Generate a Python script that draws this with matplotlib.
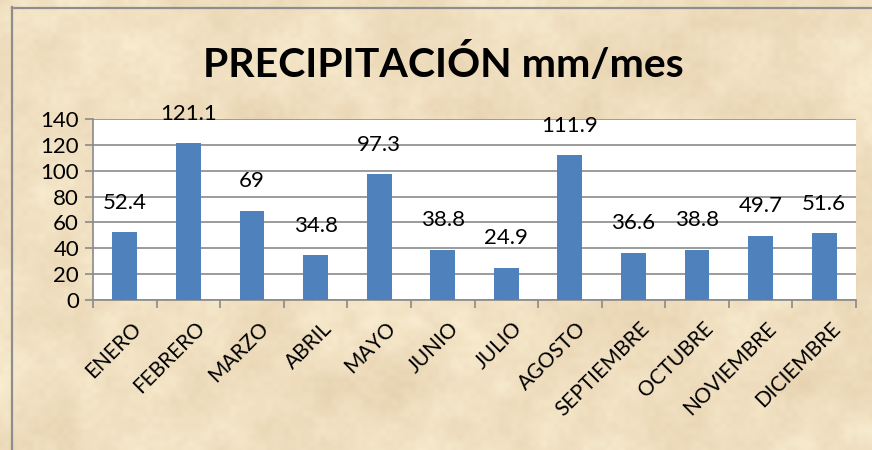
import numpy as np
import matplotlib
matplotlib.use("Agg")
import matplotlib.pyplot as plt
from matplotlib.lines import Line2D
from matplotlib.transforms import ScaledTranslation

months = ["ENERO", "FEBRERO", "MARZO", "ABRIL", "MAYO", "JUNIO", "JULIO",
          "AGOSTO", "SEPTIEMBRE", "OCTUBRE", "NOVIEMBRE", "DICIEMBRE"]
precip_mm = [52.4, 121.1, 69, 34.8, 97.3, 38.8, 24.9, 111.9, 36.6, 38.8, 49.7, 51.6]
y_ticks = [0, 20, 40, 60, 80, 100, 120, 140]
title = "PRECIPITACIÓN mm/mes"

plt.rcParams["font.family"] = ["Lato", "DejaVu Sans"]

W, H = 872, 450
fig = plt.figure(figsize=(W / 100, H / 100), dpi=100)

# parchment-like backdrop: soft mottled texture behind everything
rng = np.random.default_rng(7)
def smooth_noise(h, w, cell):
    g = rng.random((h // cell + 2, w // cell + 2))
    yi = np.linspace(0, g.shape[0] - 1.001, h)
    xi = np.linspace(0, g.shape[1] - 1.001, w)
    y0 = yi.astype(int); x0 = xi.astype(int)
    fy = (yi - y0)[:, None]; fx = (xi - x0)[None, :]
    fy = fy * fy * (3 - 2 * fy); fx = fx * fx * (3 - 2 * fx)
    a = g[y0][:, x0]; b = g[y0][:, x0 + 1]
    c = g[y0 + 1][:, x0]; d = g[y0 + 1][:, x0 + 1]
    return (a * (1 - fx) + b * fx) * (1 - fy) + (c * (1 - fx) + d * fx) * fy

n = (0.45 * smooth_noise(H, W, 70) + 0.35 * smooth_noise(H, W, 22)
     + 0.2 * smooth_noise(H, W, 6))
n = (n - n.min()) / (n.max() - n.min())
light = np.array([0.975, 0.925, 0.815])
dark = np.array([0.905, 0.825, 0.690])
tex = dark[None, None, :] * (1 - n[..., None]) + light[None, None, :] * n[..., None]
bg = fig.add_axes([0, 0, 1, 1], zorder=-10)
bg.imshow(tex, aspect="auto", extent=[0, 1, 0, 1], interpolation="bilinear")
bg.axis("off")

# chart frame edges (left and top)
frame_c = "#8e8e8e"
fig.add_artist(Line2D([11.5 / W, 11.5 / W], [0, 1 - 7 / H], transform=fig.transFigure,
                      color=frame_c, lw=1.6))
fig.add_artist(Line2D([11.5 / W, 1], [1 - 7.5 / H, 1 - 7.5 / H], transform=fig.transFigure,
                      color=frame_c, lw=1.6))

ax = fig.add_axes([93 / W, 1 - 300 / H, (856 - 93) / W, (300 - 119) / H])
ax.set_facecolor("white")
x = np.arange(len(months))
ax.bar(x, precip_mm, width=0.39, color="#4F81BD", zorder=3)

ax.set_xlim(-0.5, len(months) - 0.5)
ax.set_ylim(0, 140)
ax.set_yticks(y_ticks)
ax.set_yticklabels([str(v) for v in y_ticks], fontsize=16)
ax.yaxis.grid(True, color="#8a8a8a", lw=1.2, zorder=0)
ax.set_axisbelow(True)

# category boundary ticks on the x axis, labels centred on each bar
ax.set_xticks(np.arange(-0.5, len(months)), minor=False)
ax.set_xticklabels([])
ax.set_xticks(x, minor=True)
ax.set_xticklabels(months, minor=True, rotation=45, ha="right", va="top",
                   rotation_mode="anchor", fontsize=15)
ax.tick_params(axis="x", which="minor", length=0, pad=13)
ax.tick_params(axis="x", which="major", length=6, width=1.2, color="#8a8a8a")
ax.tick_params(axis="y", length=6, width=1.2, color="#8a8a8a", pad=4)
shift = ScaledTranslation(6 / 100, 0, fig.dpi_scale_trans)
for lab in ax.get_xticklabels(minor=True):
    lab.set_transform(lab.get_transform() + shift)

for s in ["top", "right"]:
    ax.spines[s].set_visible(False)
for s in ["left", "bottom"]:
    ax.spines[s].set_color("#8a8a8a")
    ax.spines[s].set_linewidth(1.2)

for xi, v in zip(x, precip_mm):
    ax.annotate(f"{v:g}", (xi, v), xytext=(0, 14), textcoords="offset points",
                ha="center", va="bottom", fontsize=16, zorder=5,
                annotation_clip=False)

fig.text(443.5 / W, 1 - 77 / H, title, ha="center", va="baseline",
         fontsize=29.5, fontweight="bold")

fig.savefig("out.png", dpi=100)
